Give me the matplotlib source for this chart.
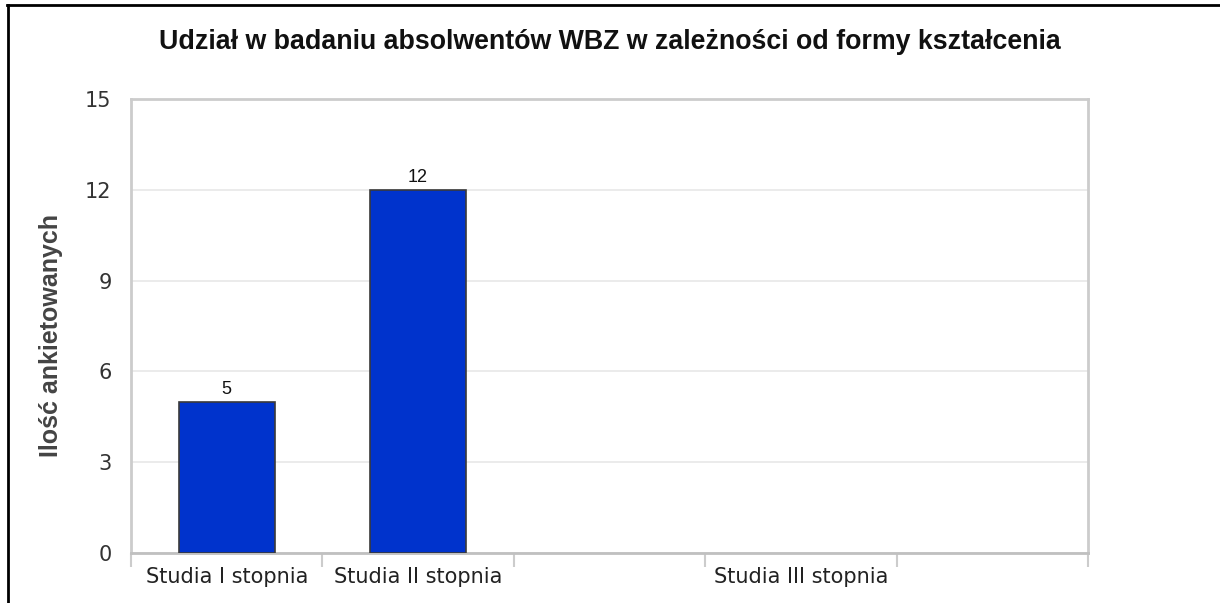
import matplotlib
matplotlib.use("Agg")
import matplotlib.pyplot as plt
from matplotlib.lines import Line2D
import numpy as np

# data
categories = ["Studia I stopnia", "Studia II stopnia", "", "Studia III stopnia", ""]
counts = [5, 12, 0, 0, 0]
y_ticks = [0, 3, 6, 9, 12, 15]

title = "Udział w badaniu absolwentów WBZ w zależności od formy kształcenia"
y_label = "Ilość ankietowanych"

bar_color = "#0033cc"
frame_color = "#cccccc"
grid_color = "#e8e8e8"

fig = plt.figure(figsize=(12.2, 6.03), dpi=100)
ax = fig.add_axes([131 / 1220, 50 / 603, (1088 - 131) / 1220, (553 - 99) / 603])

x = np.arange(len(categories))
# zero-valued categories get no bar at all
shown = [i for i, v in enumerate(counts) if v > 0]
bars = ax.bar(x[shown], [counts[i] for i in shown], width=0.5, color=bar_color,
              edgecolor="#3a3a3a", linewidth=1.2, zorder=3)

for rect, i in zip(bars, shown):
    ax.text(rect.get_x() + rect.get_width() / 2, counts[i] + 0.12, str(counts[i]),
            ha="center", va="bottom", fontsize=13, color="#111111",
            family="Liberation Sans")

ax.set_xlim(-0.5, len(categories) - 0.5)
ax.set_ylim(0, 15)
ax.set_yticks(y_ticks)
ax.set_yticklabels([str(t) for t in y_ticks], fontsize=15, color="#333333",
                   family="DejaVu Sans")
ax.tick_params(axis="y", length=0, pad=14)

ax.set_xticks(x)
ax.set_xticklabels(categories, fontsize=15, color="#222222", family="DejaVu Sans")
ax.tick_params(axis="x", which="major", length=0, pad=10)
ax.set_xticks(np.arange(-0.5, len(categories)), minor=True)
ax.tick_params(axis="x", which="minor", length=10, width=1.5, color=frame_color)

ax.yaxis.grid(True, color=grid_color, linewidth=1.2, zorder=0)
ax.set_axisbelow(True)
for side, sp in ax.spines.items():
    sp.set_color(frame_color)
    sp.set_linewidth(2)
ax.spines["bottom"].set_color("#c0c0c0")

ax.set_ylabel(y_label, fontsize=18, fontweight="bold", color="#444444",
              family="Liberation Sans")
ax.yaxis.set_label_coords(-0.071, 0.48)

fig.text(0.5, 1 - 42 / 603, title, ha="center", va="center", fontsize=19.3,
         fontweight="bold", family="Liberation Sans", color="#111111")

# black frame lines at top and left of the image
fig.add_artist(Line2D([7 / 1220, 1], [1 - 5 / 603, 1 - 5 / 603],
                      transform=fig.transFigure, color="black", linewidth=2))
fig.add_artist(Line2D([8 / 1220, 8 / 1220], [0, 1 - 5 / 603],
                      transform=fig.transFigure, color="black", linewidth=2))

fig.savefig("out.png", dpi=100)
